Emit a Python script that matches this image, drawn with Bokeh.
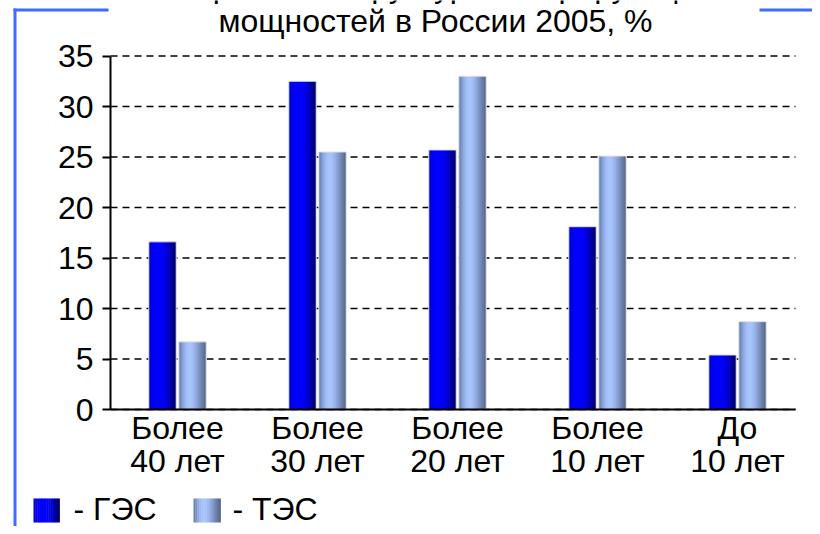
from bokeh.plotting import figure
from bokeh.models import Range1d, FixedTicker, Label, BoxAnnotation, LinearAxis
from bokeh.embed import file_html
from bokeh.resources import INLINE

# ---- data ----
categories = ["Более\n40 лет", "Более\n30 лет", "Более\n20 лет", "Более\n10 лет", "До\n10 лет"]
ges = [16.6, 32.5, 25.7, 18.1, 5.4]
tes = [6.7, 25.5, 33.0, 25.1, 8.7]
series_names = ["- ГЭС", "- ТЭС"]
title_lines = ["Возрастная структура генерирующих", "мощностей в России 2005, %"]
y_ticks = [0, 5, 10, 15, 20, 25, 30, 35]
y_max = 35

# ---- layout constants (canvas px) ----
W, H = 812, 526
FL, FR, FT, FB = 110, 795, 55.5, 409   # plot-area box inside the canvas
CAT0 = 177.0                             # px centre of first category
PX_PER_CAT = 140.0
YPX = (FB - FT) / float(y_max)
XA = (FL - CAT0) / PX_PER_CAT           # data x at plot-area left edge
XB = (FR - CAT0) / PX_PER_CAT           # data x at plot-area right edge
LBL_SHIFT = 12                           # Label baseline correction

def dx(cx):
    return (cx - CAT0) / PX_PER_CAT

def dy(cy):
    return (FB - cy) / YPX

FONT = "Liberation Sans"
FS = "32px"

p = figure(width=W, height=H, output_backend="svg", toolbar_location=None,
           x_range=Range1d(dx(0), dx(W)), y_range=Range1d(dy(H), dy(0)),
           x_axis_location=None, y_axis_location=None,
           min_border=0, min_border_left=0, min_border_right=0,
           min_border_top=0, min_border_bottom=0)
p.outline_line_color = None
p.background_fill_color = "white"
p.border_fill_color = "white"
p.grid.visible = False

# dashed gridlines across the plot area only
p.segment(x0=[XA] * len(y_ticks), x1=[XB] * len(y_ticks), y0=y_ticks, y1=y_ticks,
          line_color="black", line_dash="7 5", line_width=1.5)

# y axis (fixed inside canvas so nothing is clipped)
yax = LinearAxis(fixed_location=XA, bounds=(0, y_max))
yax.ticker = FixedTicker(ticks=y_ticks)
yax.axis_line_color = "black"
yax.axis_line_width = 2
yax.major_tick_out = 8
yax.major_tick_in = 0
yax.major_tick_line_width = 2
yax.minor_tick_line_color = None
yax.major_label_standoff = 9
yax.major_label_text_font = FONT
yax.major_label_text_font_size = FS
yax.major_label_text_color = "black"
p.add_layout(yax, "left")

# x axis
xax = LinearAxis(fixed_location=0, bounds=(XA, XB))
xax.ticker = FixedTicker(ticks=list(range(len(categories))))
xax.major_label_overrides = {i: c for i, c in enumerate(categories)}
xax.axis_line_color = "black"
xax.axis_line_width = 2
xax.major_tick_line_color = None
xax.minor_tick_line_color = None
xax.major_label_standoff = -6
xax.major_label_text_font = FONT
xax.major_label_text_font_size = FS
xax.major_label_text_color = "black"
xax.major_label_text_line_height = 0.92
p.add_layout(xax, "below")

# gradient colour stops (left -> right)
ges_grad = ["#0000d0", "#0000e8", "#0000f6", "#0000fd", "#0000ff", "#0000ff",
            "#0000fb", "#0000f2", "#0000e4", "#0000d2", "#0000bc", "#0000a2",
            "#000088", "#000070"]
tes_grad = ["#6c84b4", "#7f98cc", "#90abe2", "#9db9f2", "#a5c1fa", "#a8c4fd",
            "#a6c2fa", "#9fbaf2", "#95afe6", "#89a2d6", "#7c93c4", "#6f85b0",
            "#64779e", "#5a6b8e"]

BW = 0.196
OFF = 15 / PX_PER_CAT
xs = list(range(len(categories)))

def gradient_bars(xc, vals, grad):
    n = len(grad)
    sw = BW / n
    for k, col in enumerate(grad):
        w = sw * (1.6 if k < n - 1 else 1.0)
        xk = [x - BW / 2 + sw * k + w / 2 for x in xc]
        p.vbar(x=xk, top=vals, bottom=0, width=w, fill_color=col, line_color=None)
    p.vbar(x=xc, top=vals, bottom=0, width=BW, fill_color=None,
           line_color="#e4e6ee", line_width=1)

gradient_bars([x - OFF for x in xs], ges, ges_grad)
gradient_bars([x + OFF for x in xs], tes, tes_grad)

# title (first line partly cut off by the top of the page, as in the original)
for txt, base in zip(title_lines, (-3, 32)):
    p.add_layout(Label(x=dx(435), y=dy(base - LBL_SHIFT), text=txt, text_align="center",
                       text_baseline="alphabetic", text_font=FONT, text_font_size=FS,
                       text_color="black"))

# legend drawn by hand
def legend_square(cx0, cy0, size_w, size_h, grad):
    n = len(grad)
    sw = size_w / n
    for k, col in enumerate(grad):
        p.add_layout(BoxAnnotation(left=dx(cx0 + sw * k), right=dx(cx0 + sw * (k + 1) + 0.4),
                                   top=dy(cy0), bottom=dy(cy0 + size_h),
                                   fill_color=col, fill_alpha=1, line_color=None,
                                   level="overlay"))

legend_square(33, 498, 26, 24, ges_grad)
legend_square(193, 498, 27, 24, tes_grad)
for txt, lx in zip(series_names, (73, 232)):
    p.add_layout(Label(x=dx(lx), y=dy(520 - LBL_SHIFT), text=txt, text_align="left",
                       text_baseline="alphabetic", text_font=FONT, text_font_size=FS,
                       text_color="black"))

# slide decoration lines
DECO = "#3d6cff"
for l, r, t, b in ((13, 16, 8, H), (13, 108, 8, 11), (759, W, 8, 11)):
    p.add_layout(BoxAnnotation(left=dx(l), right=dx(r), top=dy(t), bottom=dy(b),
                               fill_color=DECO, fill_alpha=1, line_color=None,
                               level="overlay"))

open("out.html", "w").write(file_html(p, INLINE))
